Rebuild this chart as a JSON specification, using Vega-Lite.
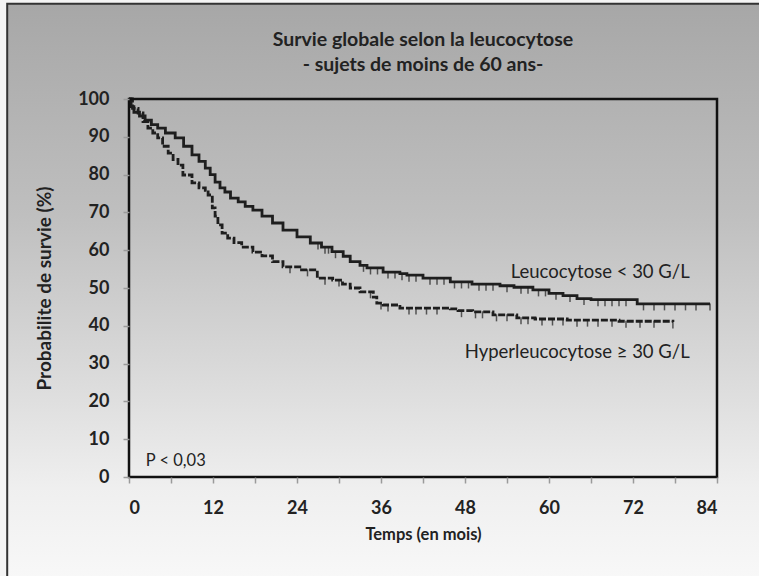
{
  "$schema": "https://vega.github.io/schema/vega-lite/v6.json",
  "autosize": {"type": "none"},
  "width": 588,
  "height": 378,
  "padding": {"left": 129, "top": 99, "right": 42, "bottom": 99},
  "background": "#f4f4f4",
  "config": {
    "view": {"stroke": null},
    "font": "Lato",
    "axis": {"labelFont": "Lato", "titleFont": "Lato", "labelOverlap": false}
  },
  "datasets": {
    "curves": [
      {"groupe": "Leucocytose < 30 G/L", "mois": 0, "survie": 100},
      {"groupe": "Leucocytose < 30 G/L", "mois": 0.3, "survie": 98},
      {"groupe": "Leucocytose < 30 G/L", "mois": 0.7, "survie": 96.5},
      {"groupe": "Leucocytose < 30 G/L", "mois": 1.5, "survie": 95.5},
      {"groupe": "Leucocytose < 30 G/L", "mois": 2.3, "survie": 94.4},
      {"groupe": "Leucocytose < 30 G/L", "mois": 3.2, "survie": 93.2},
      {"groupe": "Leucocytose < 30 G/L", "mois": 4.1, "survie": 92.3},
      {"groupe": "Leucocytose < 30 G/L", "mois": 5.2, "survie": 91},
      {"groupe": "Leucocytose < 30 G/L", "mois": 6.6, "survie": 89.7},
      {"groupe": "Leucocytose < 30 G/L", "mois": 7.8, "survie": 87.5},
      {"groupe": "Leucocytose < 30 G/L", "mois": 9, "survie": 85.2},
      {"groupe": "Leucocytose < 30 G/L", "mois": 10, "survie": 83.5},
      {"groupe": "Leucocytose < 30 G/L", "mois": 10.9, "survie": 81.7},
      {"groupe": "Leucocytose < 30 G/L", "mois": 11.6, "survie": 80},
      {"groupe": "Leucocytose < 30 G/L", "mois": 12.3, "survie": 78},
      {"groupe": "Leucocytose < 30 G/L", "mois": 13, "survie": 76.5},
      {"groupe": "Leucocytose < 30 G/L", "mois": 13.7, "survie": 75.4},
      {"groupe": "Leucocytose < 30 G/L", "mois": 14.5, "survie": 73.8},
      {"groupe": "Leucocytose < 30 G/L", "mois": 15.6, "survie": 72.8},
      {"groupe": "Leucocytose < 30 G/L", "mois": 16.6, "survie": 71.6},
      {"groupe": "Leucocytose < 30 G/L", "mois": 17.7, "survie": 70.6},
      {"groupe": "Leucocytose < 30 G/L", "mois": 19, "survie": 69},
      {"groupe": "Leucocytose < 30 G/L", "mois": 20.5, "survie": 67.2},
      {"groupe": "Leucocytose < 30 G/L", "mois": 22, "survie": 65.3},
      {"groupe": "Leucocytose < 30 G/L", "mois": 24, "survie": 63.5},
      {"groupe": "Leucocytose < 30 G/L", "mois": 25.9, "survie": 61.9},
      {"groupe": "Leucocytose < 30 G/L", "mois": 27.5, "survie": 60.8},
      {"groupe": "Leucocytose < 30 G/L", "mois": 29, "survie": 59.6},
      {"groupe": "Leucocytose < 30 G/L", "mois": 30.6, "survie": 58.4},
      {"groupe": "Leucocytose < 30 G/L", "mois": 31.6, "survie": 57},
      {"groupe": "Leucocytose < 30 G/L", "mois": 33, "survie": 56},
      {"groupe": "Leucocytose < 30 G/L", "mois": 34, "survie": 55.3},
      {"groupe": "Leucocytose < 30 G/L", "mois": 36.3, "survie": 54.2},
      {"groupe": "Leucocytose < 30 G/L", "mois": 38.7, "survie": 53.8},
      {"groupe": "Leucocytose < 30 G/L", "mois": 39.7, "survie": 53.4},
      {"groupe": "Leucocytose < 30 G/L", "mois": 42, "survie": 52.6},
      {"groupe": "Leucocytose < 30 G/L", "mois": 45.9, "survie": 51.6},
      {"groupe": "Leucocytose < 30 G/L", "mois": 49, "survie": 51},
      {"groupe": "Leucocytose < 30 G/L", "mois": 53, "survie": 50.6},
      {"groupe": "Leucocytose < 30 G/L", "mois": 55, "survie": 50.2},
      {"groupe": "Leucocytose < 30 G/L", "mois": 57.7, "survie": 49.5},
      {"groupe": "Leucocytose < 30 G/L", "mois": 60, "survie": 48.6},
      {"groupe": "Leucocytose < 30 G/L", "mois": 62, "survie": 48},
      {"groupe": "Leucocytose < 30 G/L", "mois": 64, "survie": 47.2},
      {"groupe": "Leucocytose < 30 G/L", "mois": 66, "survie": 46.9},
      {"groupe": "Leucocytose < 30 G/L", "mois": 72.6, "survie": 45.8},
      {"groupe": "Leucocytose < 30 G/L", "mois": 83, "survie": 45.8},
      {"groupe": "Hyperleucocytose ≥ 30 G/L", "mois": 0, "survie": 100},
      {"groupe": "Hyperleucocytose ≥ 30 G/L", "mois": 0.5, "survie": 97.5},
      {"groupe": "Hyperleucocytose ≥ 30 G/L", "mois": 1.3, "survie": 96.3},
      {"groupe": "Hyperleucocytose ≥ 30 G/L", "mois": 2, "survie": 94},
      {"groupe": "Hyperleucocytose ≥ 30 G/L", "mois": 2.7, "survie": 92.3},
      {"groupe": "Hyperleucocytose ≥ 30 G/L", "mois": 3.4, "survie": 91},
      {"groupe": "Hyperleucocytose ≥ 30 G/L", "mois": 4.1, "survie": 89.7},
      {"groupe": "Hyperleucocytose ≥ 30 G/L", "mois": 4.8, "survie": 87.5},
      {"groupe": "Hyperleucocytose ≥ 30 G/L", "mois": 5.6, "survie": 85.7},
      {"groupe": "Hyperleucocytose ≥ 30 G/L", "mois": 6.3, "survie": 84},
      {"groupe": "Hyperleucocytose ≥ 30 G/L", "mois": 7, "survie": 82.5},
      {"groupe": "Hyperleucocytose ≥ 30 G/L", "mois": 7.7, "survie": 79.9},
      {"groupe": "Hyperleucocytose ≥ 30 G/L", "mois": 9, "survie": 77.8},
      {"groupe": "Hyperleucocytose ≥ 30 G/L", "mois": 10, "survie": 76.5},
      {"groupe": "Hyperleucocytose ≥ 30 G/L", "mois": 10.9, "survie": 75.4},
      {"groupe": "Hyperleucocytose ≥ 30 G/L", "mois": 11.3, "survie": 74.6},
      {"groupe": "Hyperleucocytose ≥ 30 G/L", "mois": 11.9, "survie": 71.2},
      {"groupe": "Hyperleucocytose ≥ 30 G/L", "mois": 12.3, "survie": 69},
      {"groupe": "Hyperleucocytose ≥ 30 G/L", "mois": 12.7, "survie": 66.7},
      {"groupe": "Hyperleucocytose ≥ 30 G/L", "mois": 13.3, "survie": 64.5},
      {"groupe": "Hyperleucocytose ≥ 30 G/L", "mois": 14.1, "survie": 63.2},
      {"groupe": "Hyperleucocytose ≥ 30 G/L", "mois": 15, "survie": 62},
      {"groupe": "Hyperleucocytose ≥ 30 G/L", "mois": 16.1, "survie": 60.8},
      {"groupe": "Hyperleucocytose ≥ 30 G/L", "mois": 17.7, "survie": 59.5},
      {"groupe": "Hyperleucocytose ≥ 30 G/L", "mois": 19, "survie": 58.5},
      {"groupe": "Hyperleucocytose ≥ 30 G/L", "mois": 20.5, "survie": 57},
      {"groupe": "Hyperleucocytose ≥ 30 G/L", "mois": 22, "survie": 55.6},
      {"groupe": "Hyperleucocytose ≥ 30 G/L", "mois": 24.4, "survie": 54.8},
      {"groupe": "Hyperleucocytose ≥ 30 G/L", "mois": 26.9, "survie": 52.6},
      {"groupe": "Hyperleucocytose ≥ 30 G/L", "mois": 29.1, "survie": 52.1},
      {"groupe": "Hyperleucocytose ≥ 30 G/L", "mois": 30.5, "survie": 51},
      {"groupe": "Hyperleucocytose ≥ 30 G/L", "mois": 31.6, "survie": 50},
      {"groupe": "Hyperleucocytose ≥ 30 G/L", "mois": 33, "survie": 49},
      {"groupe": "Hyperleucocytose ≥ 30 G/L", "mois": 34.9, "survie": 47.6},
      {"groupe": "Hyperleucocytose ≥ 30 G/L", "mois": 35.4, "survie": 46},
      {"groupe": "Hyperleucocytose ≥ 30 G/L", "mois": 36.3, "survie": 45.5},
      {"groupe": "Hyperleucocytose ≥ 30 G/L", "mois": 38.7, "survie": 44.7},
      {"groupe": "Hyperleucocytose ≥ 30 G/L", "mois": 45.9, "survie": 44.5},
      {"groupe": "Hyperleucocytose ≥ 30 G/L", "mois": 47, "survie": 44},
      {"groupe": "Hyperleucocytose ≥ 30 G/L", "mois": 49.1, "survie": 43.7},
      {"groupe": "Hyperleucocytose ≥ 30 G/L", "mois": 52, "survie": 42.9},
      {"groupe": "Hyperleucocytose ≥ 30 G/L", "mois": 55.4, "survie": 42.1},
      {"groupe": "Hyperleucocytose ≥ 30 G/L", "mois": 58, "survie": 41.8},
      {"groupe": "Hyperleucocytose ≥ 30 G/L", "mois": 62.6, "survie": 41.5},
      {"groupe": "Hyperleucocytose ≥ 30 G/L", "mois": 70, "survie": 41.2},
      {"groupe": "Hyperleucocytose ≥ 30 G/L", "mois": 77.7, "survie": 41}
    ],
    "censures": [
      {"groupe": "Leucocytose < 30 G/L", "mois": 27, "survie": 61.9},
      {"groupe": "Leucocytose < 30 G/L", "mois": 28, "survie": 60.8},
      {"groupe": "Leucocytose < 30 G/L", "mois": 28.5, "survie": 60.8},
      {"groupe": "Leucocytose < 30 G/L", "mois": 29.5, "survie": 59.6},
      {"groupe": "Leucocytose < 30 G/L", "mois": 33.5, "survie": 56},
      {"groupe": "Leucocytose < 30 G/L", "mois": 34.5, "survie": 55.3},
      {"groupe": "Leucocytose < 30 G/L", "mois": 35.5, "survie": 55.3},
      {"groupe": "Leucocytose < 30 G/L", "mois": 37, "survie": 54.2},
      {"groupe": "Leucocytose < 30 G/L", "mois": 38, "survie": 54.2},
      {"groupe": "Leucocytose < 30 G/L", "mois": 39, "survie": 53.8},
      {"groupe": "Leucocytose < 30 G/L", "mois": 40, "survie": 53.4},
      {"groupe": "Leucocytose < 30 G/L", "mois": 41, "survie": 53.4},
      {"groupe": "Leucocytose < 30 G/L", "mois": 43, "survie": 52.6},
      {"groupe": "Leucocytose < 30 G/L", "mois": 44, "survie": 52.6},
      {"groupe": "Leucocytose < 30 G/L", "mois": 45, "survie": 52.6},
      {"groupe": "Leucocytose < 30 G/L", "mois": 46.5, "survie": 51.6},
      {"groupe": "Leucocytose < 30 G/L", "mois": 47.5, "survie": 51.6},
      {"groupe": "Leucocytose < 30 G/L", "mois": 48.5, "survie": 51.6},
      {"groupe": "Leucocytose < 30 G/L", "mois": 50, "survie": 51},
      {"groupe": "Leucocytose < 30 G/L", "mois": 51, "survie": 51},
      {"groupe": "Leucocytose < 30 G/L", "mois": 52, "survie": 51},
      {"groupe": "Leucocytose < 30 G/L", "mois": 54, "survie": 50.6},
      {"groupe": "Leucocytose < 30 G/L", "mois": 56, "survie": 50.2},
      {"groupe": "Leucocytose < 30 G/L", "mois": 57, "survie": 50.2},
      {"groupe": "Leucocytose < 30 G/L", "mois": 58.5, "survie": 49.5},
      {"groupe": "Leucocytose < 30 G/L", "mois": 59.5, "survie": 49.5},
      {"groupe": "Leucocytose < 30 G/L", "mois": 61, "survie": 48.6},
      {"groupe": "Leucocytose < 30 G/L", "mois": 63, "survie": 48},
      {"groupe": "Leucocytose < 30 G/L", "mois": 65, "survie": 47.2},
      {"groupe": "Leucocytose < 30 G/L", "mois": 67, "survie": 46.9},
      {"groupe": "Leucocytose < 30 G/L", "mois": 68, "survie": 46.9},
      {"groupe": "Leucocytose < 30 G/L", "mois": 69, "survie": 46.9},
      {"groupe": "Leucocytose < 30 G/L", "mois": 70, "survie": 46.9},
      {"groupe": "Leucocytose < 30 G/L", "mois": 71, "survie": 46.9},
      {"groupe": "Leucocytose < 30 G/L", "mois": 73.5, "survie": 45.8},
      {"groupe": "Leucocytose < 30 G/L", "mois": 75, "survie": 45.8},
      {"groupe": "Leucocytose < 30 G/L", "mois": 76.5, "survie": 45.8},
      {"groupe": "Leucocytose < 30 G/L", "mois": 78, "survie": 45.8},
      {"groupe": "Leucocytose < 30 G/L", "mois": 79.5, "survie": 45.8},
      {"groupe": "Leucocytose < 30 G/L", "mois": 81, "survie": 45.8},
      {"groupe": "Leucocytose < 30 G/L", "mois": 83, "survie": 45.8},
      {"groupe": "Hyperleucocytose ≥ 30 G/L", "mois": 23, "survie": 55.6},
      {"groupe": "Hyperleucocytose ≥ 30 G/L", "mois": 25.5, "survie": 54.8},
      {"groupe": "Hyperleucocytose ≥ 30 G/L", "mois": 28, "survie": 52.6},
      {"groupe": "Hyperleucocytose ≥ 30 G/L", "mois": 30, "survie": 52.1},
      {"groupe": "Hyperleucocytose ≥ 30 G/L", "mois": 34.5, "survie": 49},
      {"groupe": "Hyperleucocytose ≥ 30 G/L", "mois": 36, "survie": 46},
      {"groupe": "Hyperleucocytose ≥ 30 G/L", "mois": 37, "survie": 45.5},
      {"groupe": "Hyperleucocytose ≥ 30 G/L", "mois": 40, "survie": 44.7},
      {"groupe": "Hyperleucocytose ≥ 30 G/L", "mois": 41, "survie": 44.7},
      {"groupe": "Hyperleucocytose ≥ 30 G/L", "mois": 42.5, "survie": 44.7},
      {"groupe": "Hyperleucocytose ≥ 30 G/L", "mois": 44, "survie": 44.7},
      {"groupe": "Hyperleucocytose ≥ 30 G/L", "mois": 47.5, "survie": 44},
      {"groupe": "Hyperleucocytose ≥ 30 G/L", "mois": 49.5, "survie": 43.7},
      {"groupe": "Hyperleucocytose ≥ 30 G/L", "mois": 50.5, "survie": 43.7},
      {"groupe": "Hyperleucocytose ≥ 30 G/L", "mois": 52.5, "survie": 42.9},
      {"groupe": "Hyperleucocytose ≥ 30 G/L", "mois": 54, "survie": 42.9},
      {"groupe": "Hyperleucocytose ≥ 30 G/L", "mois": 56, "survie": 42.1},
      {"groupe": "Hyperleucocytose ≥ 30 G/L", "mois": 57, "survie": 42.1},
      {"groupe": "Hyperleucocytose ≥ 30 G/L", "mois": 59, "survie": 41.8},
      {"groupe": "Hyperleucocytose ≥ 30 G/L", "mois": 60.5, "survie": 41.8},
      {"groupe": "Hyperleucocytose ≥ 30 G/L", "mois": 62, "survie": 41.8},
      {"groupe": "Hyperleucocytose ≥ 30 G/L", "mois": 64, "survie": 41.5},
      {"groupe": "Hyperleucocytose ≥ 30 G/L", "mois": 65.5, "survie": 41.5},
      {"groupe": "Hyperleucocytose ≥ 30 G/L", "mois": 67, "survie": 41.5},
      {"groupe": "Hyperleucocytose ≥ 30 G/L", "mois": 69, "survie": 41.5},
      {"groupe": "Hyperleucocytose ≥ 30 G/L", "mois": 71, "survie": 41.2},
      {"groupe": "Hyperleucocytose ≥ 30 G/L", "mois": 73, "survie": 41.2},
      {"groupe": "Hyperleucocytose ≥ 30 G/L", "mois": 75, "survie": 41.2},
      {"groupe": "Hyperleucocytose ≥ 30 G/L", "mois": 77.7, "survie": 41}
    ],
    "titre": [
      {"texte": "Survie globale selon la leucocytose", "mois": 42, "survie": 115.6},
      {"texte": "- sujets de moins de 60 ans-", "mois": 42, "survie": 109}
    ],
    "etiquettes_courbes": [
      {"texte": "Leucocytose < 30 G/L", "mois": 80.1, "survie": 54.2},
      {"texte": "Hyperleucocytose ≥ 30 G/L", "mois": 80.1, "survie": 33.1}
    ],
    "etiquette_p": [
      {"texte": "P < 0,03", "mois": 2.4, "survie": 4.2}
    ]
  },
  "layer": [
    {
      "data": {"values": [{}]},
      "mark": {
        "type": "rect",
        "stroke": "#333333",
        "strokeWidth": 2,
        "fill": {
          "gradient": "linear",
          "x1": 0, "y1": 0, "x2": 0, "y2": 1,
          "stops": [
            {"offset": 0, "color": "#a7a7a7"},
            {"offset": 0.35, "color": "#bfbfbf"},
            {"offset": 0.6, "color": "#d9d9d9"},
            {"offset": 0.8, "color": "#efefef"},
            {"offset": 1, "color": "#fbfbfb"}
          ]
        }
      },
      "encoding": {
        "x": {
          "datum": -17.4, "type": "quantitative",
          "scale": {"domain": [0, 84], "nice": false},
          "axis": {
            "title": "Temps (en mois)",
            "values": [0, 6, 12, 18, 24, 30, 36, 42, 48, 54, 60, 66, 72, 78, 84],
            "labelExpr": "datum.value % 12 === 0 ? datum.label : ''",
            "labelOverlap": false,
            "domain": false,
            "grid": false,
            "ticks": true,
            "tickSize": 6,
            "tickColor": "#9a9a9a",
            "tickWidth": 1.5,
            "labelFontSize": 18,
            "labelFontWeight": "bold",
            "labelColor": "#222222",
            "labelPadding": 16,
            "titleFontSize": 16.5,
            "titleFontWeight": "bold",
            "titleColor": "#222222",
            "titlePadding": 9,
            "zindex": 1
          }
        },
        "x2": {"datum": 95},
        "y": {
          "datum": 125.2, "type": "quantitative",
          "scale": {"domain": [0, 100], "nice": false},
          "axis": {
            "title": "Probabilite de survie (%)",
            "values": [0, 10, 20, 30, 40, 50, 60, 70, 80, 90, 100],
            "tickCount": 11,
            "labelOverlap": false,
            "labelSeparation": -30,
            "domain": false,
            "grid": false,
            "tickSize": 6,
            "tickColor": "#9a9a9a",
            "tickWidth": 1.5,
            "labelFontSize": 18,
            "labelFontWeight": "bold",
            "labelColor": "#222222",
            "labelPadding": 14,
            "titleFontSize": 19,
            "titleFontWeight": "bold",
            "titleColor": "#222222",
            "titlePadding": 23,
            "zindex": 1
          }
        },
        "y2": {"datum": -35}
      }
    },
    {
      "data": {"name": "curves"},
      "mark": {"type": "line", "interpolate": "step-after", "strokeWidth": 2.8, "color": "#1e1e1e"},
      "encoding": {
        "x": {"field": "mois", "type": "quantitative"},
        "y": {"field": "survie", "type": "quantitative"},
        "detail": {"field": "groupe"},
        "strokeDash": {
          "field": "groupe", "type": "nominal",
          "scale": {"domain": ["Leucocytose < 30 G/L", "Hyperleucocytose ≥ 30 G/L"], "range": [[1, 0], [7, 2]]},
          "legend": null
        }
      }
    },
    {
      "data": {"name": "censures"},
      "mark": {"type": "tick", "orient": "vertical", "size": 7, "thickness": 1.5, "yOffset": 3, "color": "#1e1e1e"},
      "encoding": {
        "x": {"field": "mois", "type": "quantitative"},
        "y": {"field": "survie", "type": "quantitative"}
      }
    },
    {
      "data": {"name": "titre"},
      "mark": {"type": "text", "font": "Lato", "fontSize": 19.5, "fontWeight": "bold", "color": "#222222", "baseline": "middle", "align": "center", "clip": false},
      "encoding": {
        "x": {"field": "mois", "type": "quantitative"},
        "y": {"field": "survie", "type": "quantitative"},
        "text": {"field": "texte"}
      }
    },
    {
      "data": {"name": "etiquettes_courbes"},
      "mark": {"type": "text", "font": "Lato", "fontSize": 18.5, "color": "#222222", "baseline": "middle", "align": "right"},
      "encoding": {
        "x": {"field": "mois", "type": "quantitative"},
        "y": {"field": "survie", "type": "quantitative"},
        "text": {"field": "texte"}
      }
    },
    {
      "data": {"name": "etiquette_p"},
      "mark": {"type": "text", "font": "Lato", "fontSize": 16.5, "color": "#222222", "baseline": "middle", "align": "left"},
      "encoding": {
        "x": {"field": "mois", "type": "quantitative"},
        "y": {"field": "survie", "type": "quantitative"},
        "text": {"field": "texte"}
      }
    },
    {
      "data": {"values": [{}]},
      "mark": {"type": "rect", "filled": false, "stroke": "#111111", "strokeWidth": 2.5},
      "encoding": {
        "x": {"datum": 0, "type": "quantitative"},
        "x2": {"datum": 84},
        "y": {"datum": 0, "type": "quantitative"},
        "y2": {"datum": 100}
      }
    }
  ]
}
